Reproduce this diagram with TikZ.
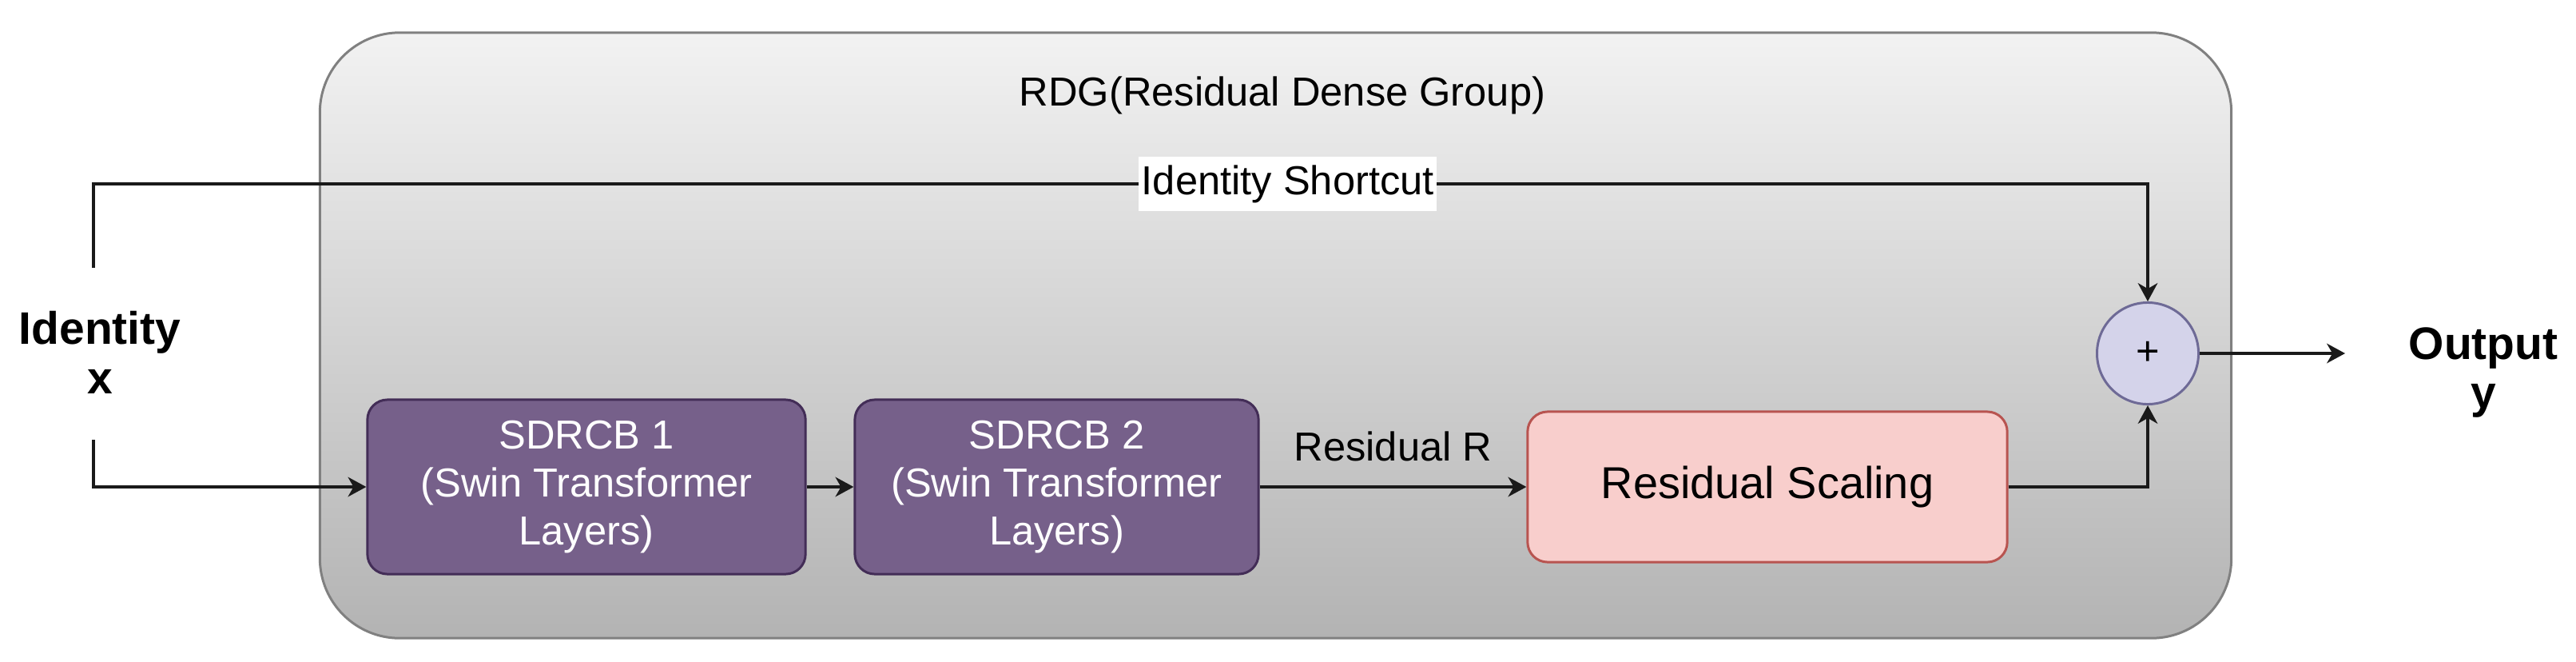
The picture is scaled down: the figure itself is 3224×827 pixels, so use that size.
\documentclass[tikz,border=0pt]{standalone}
\usepackage{fontspec}
\setmainfont{Liberation Sans}
\usetikzlibrary{arrows.meta}
\definecolor{purfill}{HTML}{76608A}
\definecolor{purdraw}{HTML}{432D57}
\definecolor{redfill}{HTML}{F8CECC}
\definecolor{reddraw}{HTML}{B85450}
\definecolor{cirfill}{HTML}{D4D3EA}
\definecolor{cirdraw}{HTML}{6E6A96}
\definecolor{gtop}{HTML}{F2F2F2}
\definecolor{gbot}{HTML}{B3B3B3}
\definecolor{gedge}{HTML}{808080}
\definecolor{lin}{HTML}{1A1A1A}
\begin{document}
\begin{tikzpicture}[x=0.01cm, y=-0.01cm,
  every node/.style={font=\fontsize{14.4}{17.1}\selectfont, inner sep=0pt},
  groupbox/.style={draw=gedge, line width=0.85pt, top color=gtop, bottom color=gbot, rounded corners=1cm},
  sdbox/.style={draw=purdraw, fill=purfill, line width=0.85pt, rounded corners=0.25cm, text=white, align=center, minimum height=2.18cm},
  rsbox/.style={draw=reddraw, fill=redfill, line width=0.85pt, rounded corners=0.25cm, minimum width=6.0cm, minimum height=1.88cm, font=\fontsize{15.9}{18}\selectfont},
  sumnode/.style={circle, draw=cirdraw, fill=cirfill, line width=0.85pt, minimum size=1.27cm},
  biglabel/.style={align=center, font=\fontsize{16.2}{17.6}\selectfont\bfseries},
  arr/.style={draw=lin, line width=0.9pt, -{Stealth[length=6.5pt, width=7pt, inset=2pt]}},
  plainline/.style={draw=lin, line width=0.9pt}
]
\useasboundingbox (0,0) rectangle (3224,827);

\node[groupbox, minimum width=23.91cm, minimum height=7.57cm] (rdg) at (1596.5,419.5) {};
\node (title) at (1605,119) {RDG(Residual Dense Group)};

\node[sdbox, minimum width=5.48cm] (sd1) at (734,609) {SDRCB 1\\(Swin Transformer\\Layers)};
\node[sdbox, minimum width=5.05cm] (sd2) at (1322.5,609) {SDRCB 2\\(Swin Transformer\\Layers)};
\node[rsbox] (rs) at (2212,609) {Residual Scaling};
\node[sumnode] (plus) at (2688,442) {+};

\node[biglabel] (inp) at (125,441) {Identity\\x};
\node[biglabel] (outp) at (3108,466) {Output\\y};

\coordinate (s1) at (117,335);
\coordinate (sc) at (117,230);
\coordinate (s2) at (117,550);
\coordinate (oc) at (2935,442);

\draw[arr] (s1) -- (sc) -| node[pos=0.2907, fill=white, inner xsep=1pt, inner ysep=3pt] (idsc) {Identity Shortcut} (plus.north);
\draw[arr] (s2) |- (sd1.west);
\draw[arr] (sd1) -- (sd2);
\draw[arr] (sd2) -- node[midway, anchor=base, yshift=0.32cm] (resr) {Residual R} (rs);
\draw[arr] (rs.east) -| (plus.south);
\draw[arr] (plus.east) -- (oc);
\end{tikzpicture}
\end{document}
